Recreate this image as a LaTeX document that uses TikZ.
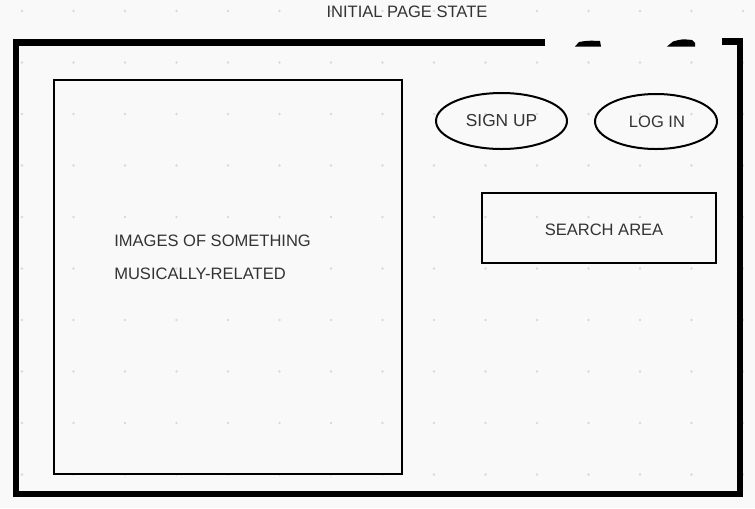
\documentclass[tikz,border=0pt]{standalone}
\usepackage{fontspec}
\setmainfont{Liberation Sans}
\usetikzlibrary{shapes.geometric}
\definecolor{bg}{HTML}{F9F9F9}
\definecolor{dotc}{HTML}{DADADA}
\definecolor{txt}{HTML}{333333}
\tikzset{
  frame/.style={line width=4.6pt, black},
  box/.style={draw=black, line width=1.5pt, inner sep=0pt},
  oval/.style={ellipse, draw=black, line width=1.5pt, inner sep=0pt},
  lbl/.style={text=txt, font=\fontsize{12.4}{14}\selectfont, inner sep=0pt},
}
\begin{document}
\begin{tikzpicture}[x=0.75pt,y=-0.75pt]
\fill[bg] (0,0) rectangle (755,508);
\useasboundingbox (0,0) rectangle (755,508);
% dot grid
\foreach \i in {0,...,14}{
  \foreach \j in {0,...,9}{
    \fill[dotc] ({22+51.5*\i},{11+51.5*\j}) circle (1.3);
  }
}
% title
\node[lbl] (title) at (407,12) {INITIAL PAGE STATE};
% outer frame
\coordinate (tl) at (16,42.5);
\coordinate (bl) at (16,494);
\coordinate (br) at (740,494);
\coordinate (tr) at (740,41.5);
\draw[frame] (545,42.5) -- (tl) -- (bl) -- (br) -- (tr) -- (722,41.5);
\fill[black] (575,46.5) -- (579,42) .. controls (588,40.5) .. (600,41) -- (601,46.5) -- cycle;
\fill[black] (667,46.5) -- (673,41.5) .. controls (682,39) .. (692,40) -- (695,43) -- (695,46.5) -- cycle;
% image box
\node[box, minimum width=348*0.75pt, minimum height=394*0.75pt, anchor=north west] (img) at (53,79) {};
\node[lbl, anchor=west] (t1) at (114,241) {IMAGES OF SOMETHING};
\node[lbl, anchor=west] (t2) at (114,274) {MUSICALLY-RELATED};
% buttons
\node[oval, minimum width=131*0.75pt, minimum height=56*0.75pt] (signup) at (501.5,121) {};
\node[lbl] (su) at (501.5,121) {\fontsize{13}{14}\selectfont SIGN UP};
\node[oval, minimum width=122*0.75pt, minimum height=55*0.75pt] (login) at (656,121.5) {};
\node[lbl] (li) at (657,122) {LOG IN};
% search area
\node[box, minimum width=234*0.75pt, minimum height=70*0.75pt, anchor=north west] (search) at (481,192) {};
\node[lbl] (st) at (604,230) {SEARCH AREA};
\end{tikzpicture}
\end{document}
